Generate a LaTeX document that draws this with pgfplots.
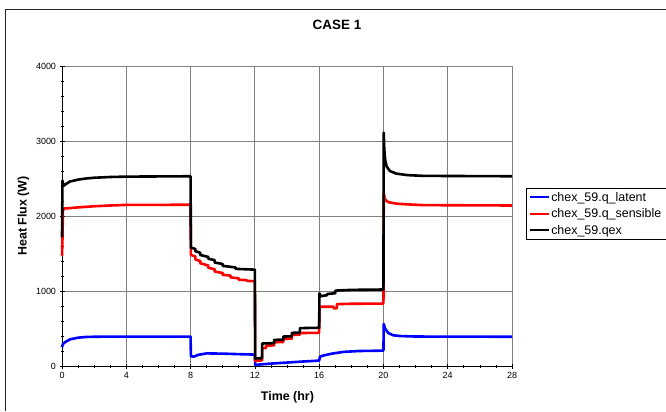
\documentclass[border=0pt]{standalone}
\usepackage{fontspec}
\setmainfont{Liberation Sans}
\usepackage{pgfplots}
\pgfplotsset{compat=1.18}
\definecolor{gridgray}{RGB}{128,128,128}
\definecolor{qblue}{RGB}{0,0,255}
\definecolor{qred}{RGB}{255,0,0}
\begin{document}
\begin{tikzpicture}[x=1bp,y=1bp]
\useasboundingbox (0,0) rectangle (666,411);
% chart frame (left and top edges)
\draw[line width=1bp,black!85] (5,0) -- (5,401) -- (666,401);
\begin{axis}[
  at={(62bp,45bp)}, anchor=south west,
  scale only axis, width=450bp, height=300bp,
  xmin=0, xmax=28, ymin=0, ymax=4000,
  xtick={0,4,...,28}, ytick={0,1000,...,4000},
  minor x tick num=3, minor y tick num=4,
  axis x line*=bottom, axis y line*=left,
  axis line style={black, line width=0.9bp, -},
  tick style={black, line width=0.7bp},
  tick align=center,
  major tick length=5bp, minor tick length=3bp,
  grid=major,
  major grid style={gridgray, line width=0.9bp},
  ticklabel style={font=\fontsize{9}{10}\selectfont},
  /pgf/number format/assume math mode=true,
  /pgf/number format/1000 sep={},
  title={\textbf{CASE 1}},
  title style={at={(rel axis cs:0.611,1.117)}, anchor=center, font=\fontsize{13.5}{15}\selectfont},
  xlabel={\textbf{Time (hr)}},
  ylabel={\textbf{Heat Flux (W)}},
  every axis x label/.style={at={(rel axis cs:0.501,-0.103)}, anchor=center, font=\fontsize{12.5}{14}\selectfont},
  every axis y label/.style={at={(rel axis cs:-0.086,0.5)}, anchor=center, rotate=90, font=\fontsize{12.5}{14}\selectfont},
  legend style={at={(rel axis cs:1.031,0.593)}, anchor=north west, draw=black, line width=0.8bp,
    font=\fontsize{12.5}{14}\selectfont, inner sep=2bp, row sep=3bp,
    nodes={inner sep=1.5bp, text width=122bp}},
  legend cell align=left,
  legend image code/.code={\draw[#1, line width=2.4bp] (0bp,0bp) -- (19bp,0bp);},
  every axis plot/.append style={line join=round},
  clip=false,
]
% latent heat flux
\addplot[qblue, line width=2.6bp] coordinates {
(0,250) (0.05,290) (0.2,320) (0.5,355) (1,378) (1.5,387) (2,390) (3,392) (8,392)
(8.02,130) (8.2,125) (8.5,150) (9,168) (10,165) (11,158) (12,152)
(12.02,15) (13,32) (14,46) (15,60) (16,72)
(16.05,125) (16.3,142) (16.8,165) (17.5,188) (18.5,200) (20,205)
(20.02,560) (20.1,500) (20.3,440) (20.6,410) (21,400) (22,393) (28,390)
};
\addlegendentry{chex\_59.q\_latent}
% sensible heat flux
\addplot[qred, line width=2.6bp] coordinates {
(0,1470) (0.03,1700) (0.06,2080) (0.15,2100) (0.5,2105) (1,2115) (2,2130) (3,2140) (4,2148) (8,2150)
(8.02,1480) (8.3,1460) (8.3,1420) (8.6,1400) (8.6,1370) (9.1,1340) (9.1,1310) (9.5,1290) (9.5,1260)
(10.0,1240) (10.0,1215) (10.5,1205) (10.5,1180) (11.0,1170) (11.0,1150) (11.5,1145) (11.5,1135) (12.0,1130)
(12.02,70) (12.45,75) (12.45,236) (12.7,240) (12.7,272) (13.2,275) (13.2,316) (13.77,320) (13.77,362)
(14.3,365) (14.3,415) (14.8,418) (14.8,440) (16,442)
(16.02,790) (16.9,790) (16.9,770) (17.1,770) (17.1,825) (18,830) (20,832)
(20.02,2300) (20.1,2220) (20.3,2185) (20.8,2165) (21.5,2155) (22.5,2145) (28,2140)
};
\addlegendentry{chex\_59.q\_sensible}
% total exchanged heat
\addplot[black, line width=2.6bp] coordinates {
(0,1720) (0.03,2470) (0.1,2400) (0.2,2420) (0.5,2460) (1,2485) (1.5,2500) (2,2510) (3,2520) (4,2525) (8,2530)
(8.02,1580) (8.3,1560) (8.3,1530) (8.6,1510) (8.6,1480) (9.1,1455) (9.1,1430) (9.5,1412) (9.5,1380)
(10.0,1360) (10.0,1335) (10.8,1314) (10.8,1295) (12,1285)
(12.02,100) (12.45,105) (12.45,300) (13.2,305) (13.2,348) (13.77,352) (13.77,393) (14.3,396) (14.3,442)
(14.8,446) (14.8,505) (16,510)
(16.02,970) (16.1,930) (16.5,945) (16.5,960) (17.0,970) (17.0,1005) (18,1015) (20,1020)
(20.02,3110) (20.05,2900) (20.1,2760) (20.2,2660) (20.4,2600) (20.8,2565) (21.5,2545) (22.5,2535) (28,2530)
};
\addlegendentry{chex\_59.qex}
\end{axis}
\end{tikzpicture}
\end{document}
